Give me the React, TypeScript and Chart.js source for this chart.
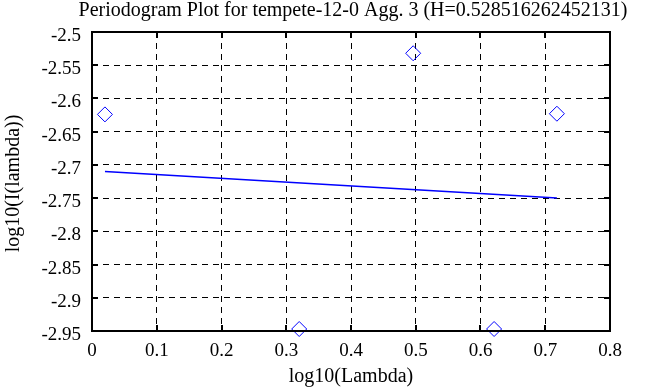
import React, { useEffect, useRef } from "react";
import { Chart, registerables } from "chart.js";

Chart.register(...registerables);

const titleText = "Periodogram Plot for tempete-12-0 Agg. 3 (H=0.528516262452131)";
const xTitle = "log10(Lambda)";
const yTitle = "log10(I(lambda))";

const pointX = [0.02, 0.32, 0.496, 0.621, 0.718];
const pointY = [-2.624, -2.947, -2.532, -2.947, -2.623];
const fitX = [0.02, 0.718];
const fitY = [-2.71, -2.75];

const xTicks = [0, 0.1, 0.2, 0.3, 0.4, 0.5, 0.6, 0.7, 0.8];
const yTicks = [-2.95, -2.9, -2.85, -2.8, -2.75, -2.7, -2.65, -2.6, -2.55, -2.5];

const FONT = "'Liberation Serif', 'Times New Roman', serif";
const fmt = (v: number) => String(parseFloat(v.toFixed(2)));

export default function App() {
  const ref = useRef<HTMLCanvasElement>(null);
  useEffect(() => {
    const canvas = ref.current!;
    const frame = {
      id: "frame",
      afterDatasetsDraw(chart: any) {
        const { ctx, chartArea: a, scales } = chart;
        ctx.save();
        ctx.strokeStyle = "#000";
        ctx.lineWidth = 2;
        ctx.strokeRect(a.left, a.top, a.right - a.left, a.bottom - a.top);
        const L = 6;
        ctx.beginPath();
        for (const v of xTicks) {
          const x = Math.round(scales.x.getPixelForValue(v));
          ctx.moveTo(x, a.bottom);
          ctx.lineTo(x, a.bottom - L);
          ctx.moveTo(x, a.top);
          ctx.lineTo(x, a.top + L);
        }
        for (const v of yTicks) {
          const y = Math.round(scales.y.getPixelForValue(v));
          ctx.moveTo(a.left, y);
          ctx.lineTo(a.left + L, y);
          ctx.moveTo(a.right, y);
          ctx.lineTo(a.right - L, y);
        }
        ctx.stroke();
        ctx.fillStyle = "#000";
        ctx.textBaseline = "alphabetic";
        ctx.font = "19px " + FONT;
        ctx.textAlign = "center";
        for (const v of xTicks) {
          ctx.fillText(fmt(v), scales.x.getPixelForValue(v), 356);
        }
        ctx.textAlign = "right";
        for (const v of yTicks) {
          ctx.fillText(fmt(v), 81, scales.y.getPixelForValue(v) + 9);
        }
        ctx.font = "20px " + FONT;
        ctx.textAlign = "center";
        ctx.fillText(titleText, (a.left + a.right) / 2 + 2, 16);
        ctx.fillText(xTitle, (a.left + a.right) / 2, 382);
        ctx.translate(19, (a.top + a.bottom) / 2 + 2);
        ctx.rotate(-Math.PI / 2);
        ctx.fillText(yTitle, 0, 0);
        ctx.restore();
      },
    };
    const chart = new Chart(canvas, {
      type: "scatter",
      data: {
        datasets: [
          {
            data: pointX.map((x, i) => ({ x, y: pointY[i] })),
            showLine: false,
            pointStyle: "rectRot",
            pointRadius: 7.5,
            pointBorderWidth: 1,
            borderColor: "#0000ff",
            backgroundColor: "rgba(0,0,0,0)",
            clip: false as any,
          },
          {
            data: fitX.map((x, i) => ({ x, y: fitY[i] })),
            showLine: true,
            pointRadius: 0,
            borderColor: "#0000ff",
            borderWidth: 1.5,
          },
        ],
      },
      options: {
        responsive: false,
        animation: false,
        layout: { padding: { left: 92, top: 32, right: 58, bottom: 56 } },
        plugins: { legend: { display: false }, tooltip: { enabled: false } },
        scales: {
          x: {
            type: "linear",
            min: 0,
            max: 0.8,
            afterBuildTicks: (s: any) => {
              s.ticks = xTicks.map((v) => ({ value: v }));
            },
            afterFit: (s: any) => {
              s.height = 0;
            },
            grid: { color: "#000", lineWidth: 1, drawTicks: false },
            border: { display: false, dash: [6, 5] },
            ticks: { display: false },
          },
          y: {
            type: "linear",
            min: -2.95,
            max: -2.5,
            afterBuildTicks: (s: any) => {
              s.ticks = yTicks.map((v) => ({ value: v }));
            },
            afterFit: (s: any) => {
              s.width = 0;
            },
            grid: { color: "#000", lineWidth: 1, drawTicks: false },
            border: { display: false, dash: [6, 5] },
            ticks: { display: false },
          },
        },
      },
      plugins: [frame],
    });
    return () => chart.destroy();
  }, []);
  return (
    <div style={{ position: "fixed", left: 0, top: 0, width: 668, height: 387, background: "#fff" }}>
      <canvas ref={ref} width={668} height={387} style={{ width: 668, height: 387 }} />
    </div>
  );
}
